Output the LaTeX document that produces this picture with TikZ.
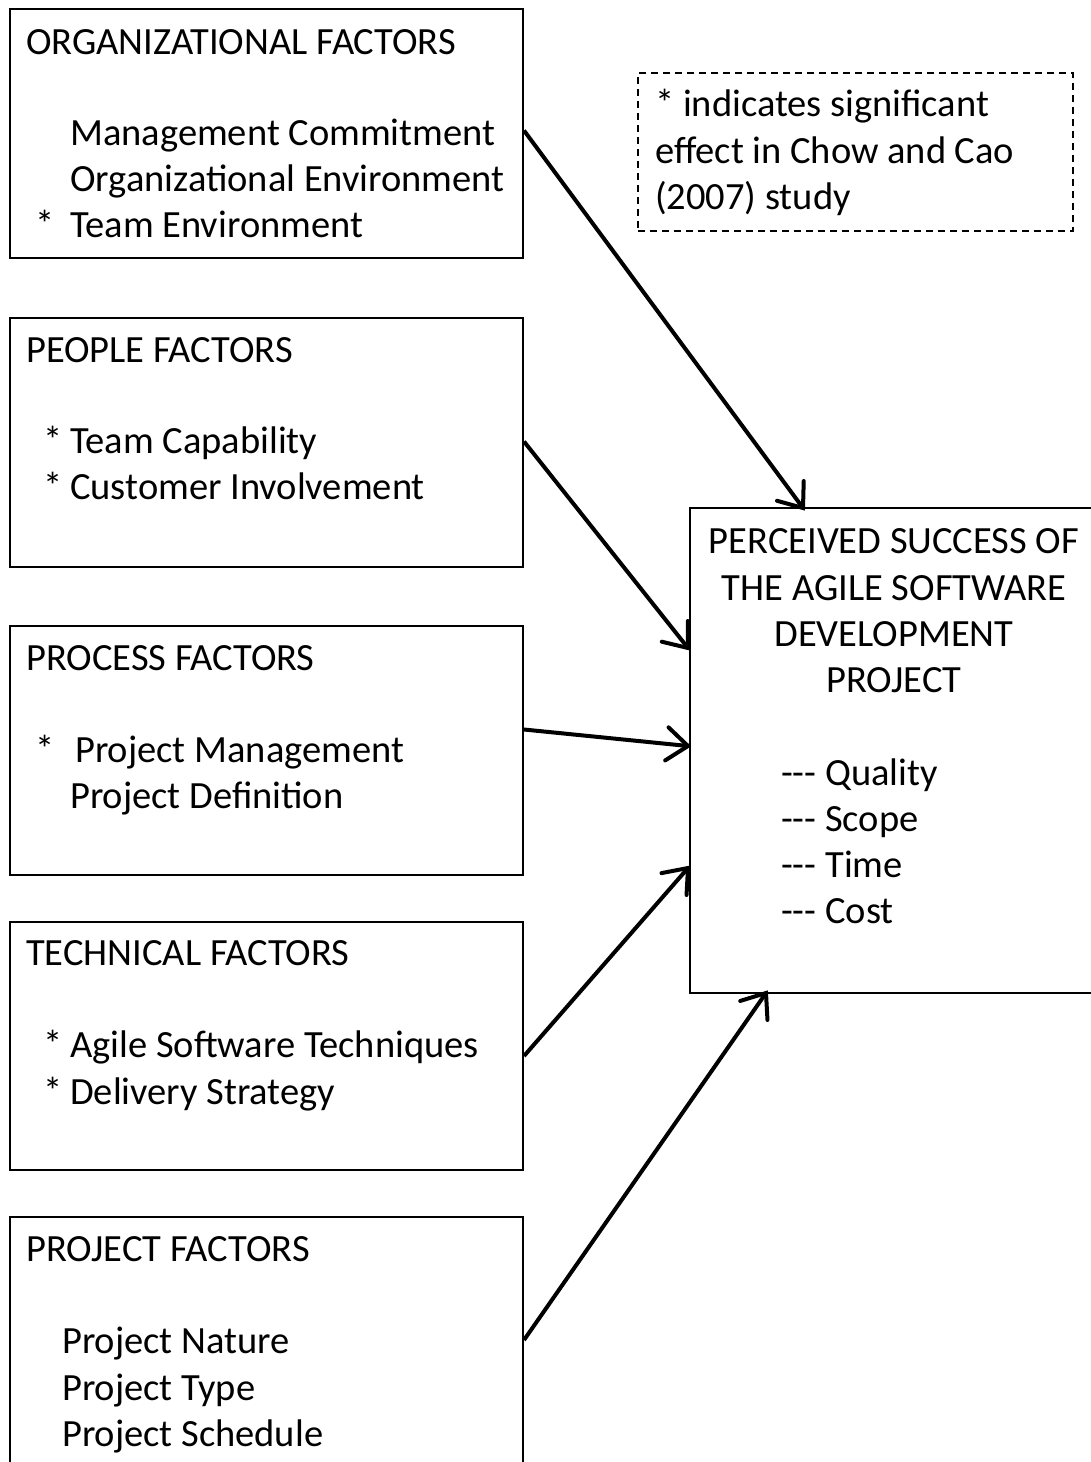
\documentclass[tikz,border=0pt]{standalone}
\usepackage{fontspec}
\setmainfont{Carlito}
\usetikzlibrary{calc}
\begin{document}
\begin{tikzpicture}[x=1pt,y=-1pt,
  factorbox/.style={draw=black,line width=2pt,rectangle,anchor=north west,inner sep=0pt,minimum width=513pt},
  txt/.style={anchor=base west,inner sep=0pt,font=\fontsize{38.5}{46}\selectfont},
  ctxt/.style={anchor=base,inner sep=0pt,font=\fontsize{38.5}{46}\selectfont},
  link/.style={line width=4pt,line cap=butt},
  vhead/.style={line width=4pt,line join=miter,line cap=round}]
\clip (0,0) rectangle (1091,1462);
\fill[white] (0,0) rectangle (1091,1462);
% boxes
\node[factorbox,minimum height=249pt] (org) at (9,8) {};
\node[factorbox,minimum height=249pt] (people) at (9,317) {};
\node[factorbox,minimum height=249pt] (process) at (9,625) {};
\node[factorbox,minimum height=248pt] (tech) at (9,921) {};
\node[factorbox,minimum height=280pt] (proj) at (9,1216) {};
\node[draw=black,line width=2pt,rectangle,anchor=north west,inner sep=0pt,minimum width=420pt,minimum height=485pt] (succ) at (689,507) {};
\node[draw=black,line width=1.6pt,dash pattern=on 7pt off 5pt,rectangle,anchor=north west,inner sep=0pt,minimum width=435pt,minimum height=158pt] (note) at (637,72) {};
% organizational
\node[txt] (t1) at (26,54) {ORGANIZATIONAL FACTORS};
\node[txt] (t1a) at (70,145) {Management Commitment};
\node[txt] (t1b) at (70,191) {Organizational Environment};
\node[txt] (t1s) at (35,237) {*};
\node[txt] (t1c) at (70,237) {Team Environment};
% people
\node[txt] (t2) at (26,362) {PEOPLE FACTORS};
\node[txt] (t2s) at (43,453) {*};
\node[txt] (t2a) at (70,453) {Team Capability};
\node[txt] (t2t) at (43,499) {*};
\node[txt] (t2b) at (70,499) {Customer Involvement};
% process
\node[txt] (t3) at (26,670) {PROCESS FACTORS};
\node[txt] (t3s) at (35,762) {*};
\node[txt] (t3a) at (75,762) {Project Management};
\node[txt] (t3b) at (70,808) {Project Definition};
% technical
\node[txt] (t4) at (26,965) {TECHNICAL FACTORS};
\node[txt] (t4s) at (43,1057) {*};
\node[txt] (t4a) at (70,1057) {Agile Software Techniques};
\node[txt] (t4t) at (43,1104) {*};
\node[txt] (t4b) at (70,1104) {Delivery Strategy};
% project
\node[txt] (t5) at (26,1261) {PROJECT FACTORS};
\node[txt] (t5a) at (62,1353) {Project Nature};
\node[txt] (t5b) at (62,1400) {Project Type};
\node[txt] (t5c) at (62,1446) {Project Schedule};
% success
\node[ctxt] (s1) at (894,553) {PERCEIVED SUCCESS OF};
\node[ctxt] (s2) at (894,600) {THE AGILE SOFTWARE};
\node[ctxt] (s3) at (894,646) {DEVELOPMENT};
\node[ctxt] (s4) at (894,692) {PROJECT};
\node[txt] (s5) at (781,785) {-{}-{}- Quality};
\node[txt] (s6) at (781,831) {-{}-{}- Scope};
\node[txt] (s7) at (781,877) {-{}-{}- Time};
\node[txt] (s8) at (781,923) {-{}-{}- Cost};
% note
\node[txt] (n1) at (655,116) {* indicates significant};
\node[txt] (n2) at (655,163) {effect in Chow and Cao};
\node[txt] (n3) at (655,209) {(2007) study};
% connector end points
\coordinate (a1) at ([yshift=3pt]org.east);
\coordinate (a2) at ([yshift=1pt]people.east);
\coordinate (a3) at ([yshift=21pt]process.east);
\coordinate (a4) at ([yshift=-10pt]tech.east);
\coordinate (a5) at ([yshift=-124pt]proj.north east);
\coordinate (b1) at ([xshift=114pt,yshift=-1pt]succ.north west);
\coordinate (b2) at ([xshift=-1pt,yshift=-141pt]succ.north west);
\coordinate (b3) at ([xshift=-1pt,yshift=-239pt]succ.north west);
\coordinate (b4) at ([xshift=-1pt,yshift=-361pt]succ.north west);
\coordinate (b5) at ([xshift=77pt,yshift=1pt]succ.south west);
% arrows
\foreach \i in {1,...,5}{
  \draw[link] (a\i) -- (b\i);
  \draw[vhead] ($(b\i)!27pt!38:(a\i)$) -- (b\i) -- ($(b\i)!27pt!-38:(a\i)$);
}
\end{tikzpicture}
\end{document}
